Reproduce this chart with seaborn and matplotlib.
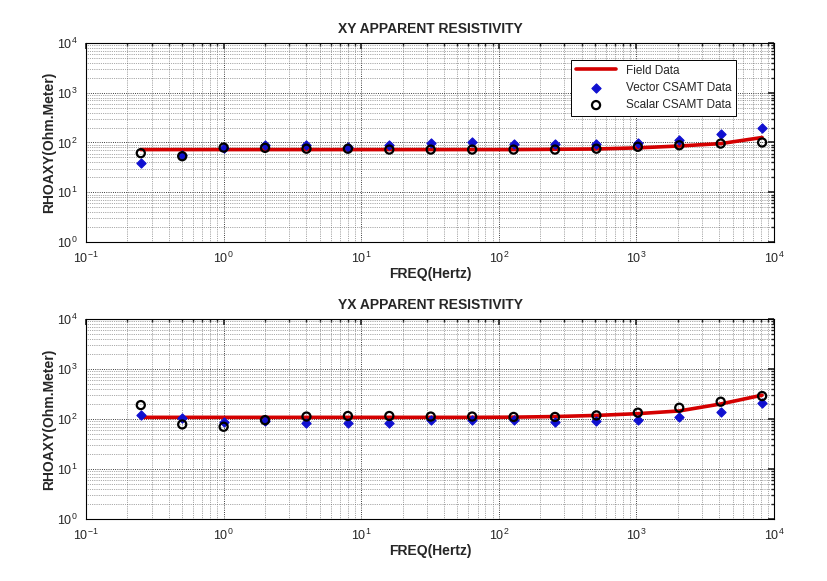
#!/usr/bin/env python3
"""XY / YX apparent resistivity curves: field data vs vector and scalar CSAMT."""

import matplotlib
matplotlib.use("Agg")
import matplotlib.pyplot as plt
import numpy as np
import pandas as pd
import seaborn as sns

freq = [0.25, 0.5, 1, 2, 4, 8, 16, 32, 64, 128, 256, 512, 1024, 2048, 4096, 8192]

# XY component
xy_field = [72, 72, 72, 72, 72, 72, 72, 72, 72, 72, 73, 74, 78, 85, 95, 126]
xy_vector = [38, 57, 79, 87, 87, 83, 88, 98, 100, 93, 92, 92, 98, 110, 145, 200]
xy_scalar = [61, 53, 79, 78, 75, 75, 72, 72, 72, 72, 72, 75, 82, 88, 95, 100]

# YX component
yx_field = [108, 108, 108, 108, 108, 108, 108, 108, 108, 109, 112, 118, 128, 145, 200, 300]
yx_vector = [120, 106, 88, 90, 85, 83, 85, 95, 97, 95, 88, 92, 95, 108, 140, 205]
yx_scalar = [190, 78, 70, 95, 112, 115, 115, 112, 112, 110, 110, 118, 134, 168, 222, 288]

titles = ["XY APPARENT RESISTIVITY", "YX APPARENT RESISTIVITY"]


def draw_panel(ax, field, vector, scalar, title, show_legend):
    df = pd.DataFrame({"freq": freq, "field": field, "vector": vector, "scalar": scalar})

    sns.lineplot(data=df, x="freq", y="field", ax=ax, color="#d40000", lw=2.6,
                 label="Field Data", zorder=2)
    sns.scatterplot(data=df, x="freq", y="vector", ax=ax, marker="D", s=22,
                    color="#1010d0", edgecolor="#1010d0", linewidth=0.8,
                    label="Vector CSAMT Data", zorder=3)
    sns.scatterplot(data=df, x="freq", y="scalar", ax=ax, marker="o", s=34,
                    facecolor="none", edgecolor="black", linewidth=1.6,
                    label="Scalar CSAMT Data", zorder=4)

    ax.set_xscale("log")
    ax.set_yscale("log")
    ax.set_xlim(1e-1, 1e4)
    ax.set_ylim(1e0, 1e4)

    ax.grid(which="major", ls=":", color="black", lw=0.6)
    ax.grid(which="minor", ls=":", color="0.35", lw=0.5)
    ax.tick_params(which="both", direction="in", top=True, right=True, labelsize=9)
    ax.tick_params(which="major", length=4)
    ax.tick_params(which="minor", length=2)
    ax.tick_params(axis="x", which="major", pad=6)
    ax.tick_params(axis="y", which="major", pad=6)
    for sp in ax.spines.values():
        sp.set_color("black")
        sp.set_linewidth(0.8)

    ax.set_title(title, fontsize=10, fontweight="bold", pad=7)
    ax.set_xlabel("FREQ(Hertz)", fontsize=10, fontweight="bold", labelpad=1)
    ax.set_ylabel("RHOAXY(Ohm.Meter)", fontsize=10, fontweight="bold", labelpad=1)

    if show_legend:
        leg = ax.legend(loc="upper right", bbox_to_anchor=(0.953, 0.945), fontsize=8.5,
                        frameon=True, fancybox=False, framealpha=1,
                        edgecolor="black", borderpad=0.4, handlelength=3.4,
                        labelspacing=0.45)
        leg.get_frame().set_linewidth(0.7)
    else:
        ax.get_legend().remove()


def main():
    sns.set_theme(style="white")
    plt.rcParams["font.family"] = ["Liberation Sans", "DejaVu Sans"]
    plt.rcParams["mathtext.fontset"] = "custom"
    plt.rcParams["mathtext.rm"] = "Liberation Sans"

    fig = plt.figure(figsize=(8.28, 5.81), dpi=100)
    ax1 = fig.add_axes([0.1039, 0.5835, 0.8309, 0.3425])
    ax2 = fig.add_axes([0.1039, 0.1067, 0.8309, 0.3442])

    draw_panel(ax1, xy_field, xy_vector, xy_scalar, titles[0], True)
    draw_panel(ax2, yx_field, yx_vector, yx_scalar, titles[1], False)

    fig.savefig("out.png", dpi=100, facecolor="white")
    plt.close(fig)


if __name__ == "__main__":
    main()
